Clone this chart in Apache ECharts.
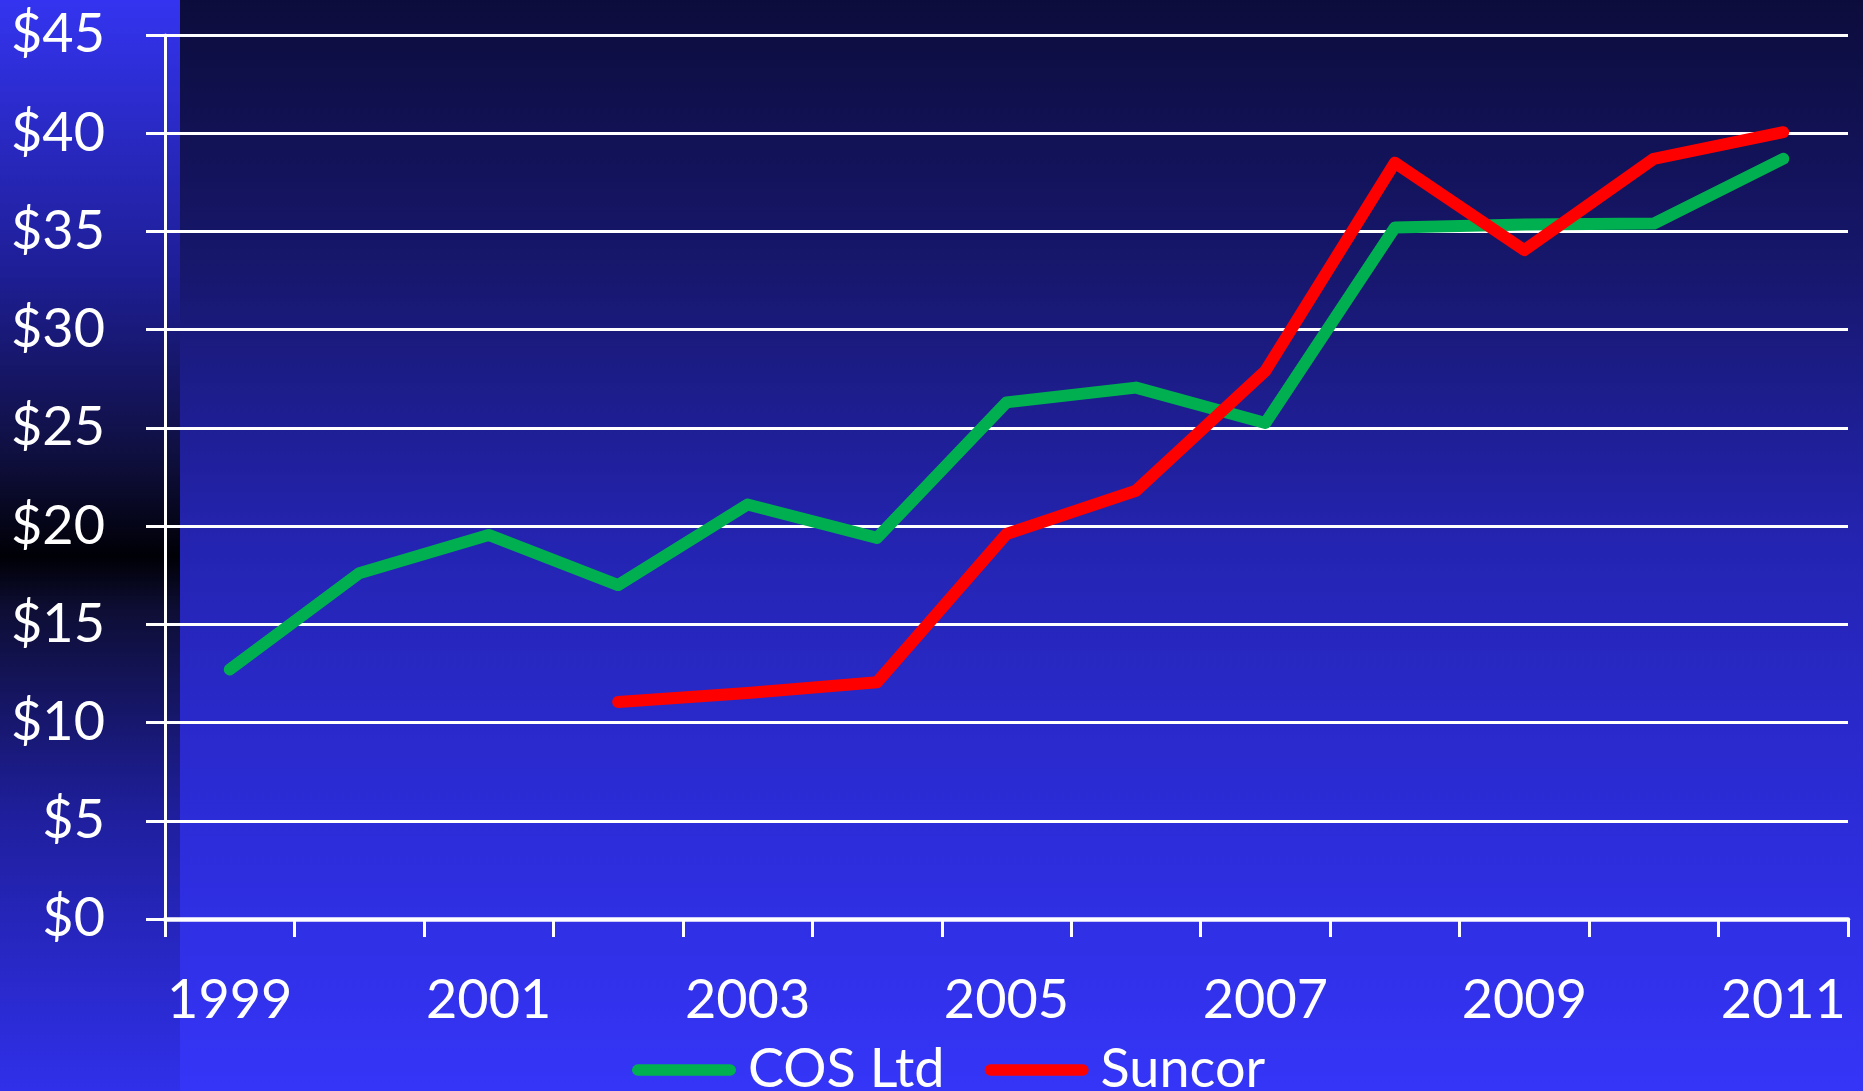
<!DOCTYPE html>
<html>
<head>
<meta charset="utf-8">
<script src="https://cdn.jsdelivr.net/npm/echarts@6/dist/echarts.min.js"></script>
<style>
  html, body { margin: 0; padding: 0; background: #1a1a80; }
  #main { width: 1863px; height: 1091px; }
</style>
</head>
<body>
<div id="main"></div>
<script>
    // 年份
    var years = ['1999', '2000', '2001', '2002', '2003', '2004', '2005', '2006', '2007', '2008', '2009', '2010', '2011'];
    // 股价
    var cosLtd = [12.7, 17.6, 19.55, 17.0, 21.1, 19.4, 26.3, 27.05, 25.25, 35.2, 35.35, 35.4, 38.7];
    var suncor = [null, null, null, 11.05, 11.5, 12.05, 19.6, 21.8, 27.9, 38.5, 34.05, 38.7, 40.05];
    var seriesNames = ['COS Ltd', 'Suncor'];

    var labelFont = 'Lato';
    var myChart = echarts.init(document.getElementById('main'));

    var option = {
        animation: false,
        backgroundColor: 'transparent',
        graphic: [
            {   // 左侧背景条
                type: 'rect', z: -10, silent: true,
                shape: { x: 0, y: 0, width: 180, height: 1091 },
                style: {
                    fill: new echarts.graphic.LinearGradient(0, 0, 0, 1, [
                        { offset: 0, color: '#3434f0' },
                        { offset: 0.25, color: '#1e1e96' },
                        { offset: 0.42, color: '#0f0f3e' },
                        { offset: 0.51, color: '#000006' },
                        { offset: 0.56, color: '#0e0e36' },
                        { offset: 0.75, color: '#1f1f9e' },
                        { offset: 1, color: '#3030ea' }
                    ])
                }
            },
            {   // 绘图区背景
                type: 'rect', z: -10, silent: true,
                shape: { x: 180, y: 0, width: 1683, height: 1091 },
                style: {
                    fill: new echarts.graphic.LinearGradient(0, 0, 0, 1, [
                        { offset: 0, color: '#0c0c3c' },
                        { offset: 0.25, color: '#17176e' },
                        { offset: 0.5, color: '#2424b2' },
                        { offset: 0.75, color: '#2c2cd8' },
                        { offset: 1, color: '#3535f8' }
                    ])
                }
            }
        ],
        grid: { left: 165, right: 15, top: 35, bottom: 172, containLabel: false },
        legend: {
            data: seriesNames,
            top: 1038,
            left: 627,
            itemWidth: 104,
            itemHeight: 12,
            itemGap: 40,
            icon: 'path://M6,0 H101 A6,6 0 0 1 101,12 H6 A6,6 0 0 1 6,0 Z',
            textStyle: { color: '#ffffff', fontSize: 54, fontFamily: labelFont, padding: [0, 0, 0, 7] }
        },
        xAxis: {
            type: 'category',
            data: years,
            boundaryGap: true,
            axisLine: { lineStyle: { color: '#ffffff', width: 4.5 } },
            axisTick: { show: true, interval: 0, length: 18, lineStyle: { color: '#ffffff', width: 3 } },
            axisLabel: { interval: 1, color: '#ffffff', fontSize: 54, fontFamily: labelFont, margin: 55 },
            splitLine: { show: false }
        },
        yAxis: {
            type: 'value',
            min: 0,
            max: 45,
            interval: 5,
            axisLine: { show: true, lineStyle: { color: '#ffffff', width: 3 } },
            axisTick: { show: true, length: 19, lineStyle: { color: '#ffffff', width: 3 } },
            axisLabel: {
                color: '#ffffff', fontSize: 54, fontFamily: labelFont, margin: 60,
                formatter: function (v) { return '$' + v; }
            },
            splitLine: { lineStyle: { color: '#ffffff', width: 3 } }
        },
        series: [
            {
                name: seriesNames[0],
                type: 'line',
                data: cosLtd,
                symbol: 'none',
                itemStyle: { color: '#00b050' },
                lineStyle: { color: '#00b050', width: 12, cap: 'round', join: 'round' }
            },
            {
                name: seriesNames[1],
                type: 'line',
                data: suncor,
                symbol: 'none',
                itemStyle: { color: '#ff0000' },
                lineStyle: { color: '#ff0000', width: 12, cap: 'round', join: 'round' }
            }
        ]
    };
    myChart.setOption(option);
</script>
</body>
</html>
